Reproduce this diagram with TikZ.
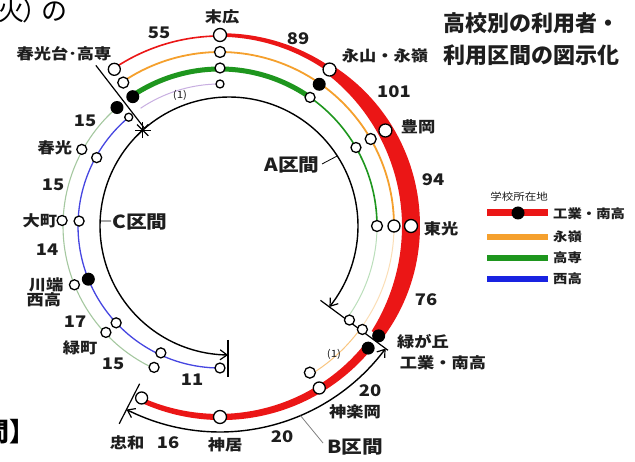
\documentclass[tikz,border=0pt]{standalone}
\usepackage{fontspec}
\newfontfamily\jp[FakeStretch=1.15]{Noto Sans CJK JP}
\newfontfamily\jpn{Noto Sans CJK JP}
\usetikzlibrary{arrows.meta}
\definecolor{rd}{RGB}{235,22,22}
\definecolor{og}{RGB}{245,160,45}
\definecolor{gr}{RGB}{30,150,30}
\definecolor{bl}{RGB}{25,35,225}
\definecolor{bll}{RGB}{70,70,225}
\definecolor{lgr}{RGB}{165,200,160}
\definecolor{fb}{RGB}{200,175,225}
\definecolor{tx}{RGB}{30,30,30}
\newcommand\myarc[3]{plot[domain=#2:#3,samples=70] (\x:#1)}
\begin{document}
\begin{tikzpicture}[x=1pt,y=-1pt,
  declare function={
    wa(\q)=ifthenelse(\q<-55, 3.5+2*(\q+90)/35, ifthenelse(\q<0, 18-8*((\q+5)/50)*((\q+5)/50), 18-5*(\q/35)*(\q/35)));
    wb(\q)=8.5-3.5*(\q-39.5)/75;
  },
  st/.style={font=\jp\bfseries\fontsize{15}{15}\selectfont, inner sep=0pt, text=tx},
  num/.style={font=\jp\bfseries\fontsize{16}{16}\selectfont, inner sep=0pt, text=tx},
  sec/.style={font=\jp\bfseries\fontsize{18}{18}\selectfont, inner sep=0pt, text=tx},
  smalltxt/.style={font=\jp\fontsize{10}{10}\selectfont, inner sep=0pt, text=tx},
  lg/.style={font=\jp\bfseries\fontsize{12.5}{13}\selectfont, inner sep=0pt, anchor=west, text=tx},
  stn/.style={circle, draw=black, fill=white, line width=1.3pt, inner sep=0pt, minimum size=#1},
  bdot/.style={circle, fill=black, inner sep=0pt, minimum size=#1},
  secarc/.style={line width=1.4pt, black},
  sbar/.style={line width=1.2pt, black},
  arr/.style={-{Straight Barb[length=7pt,width=10pt,line width=1.2pt]}},
  arrs/.style={{Straight Barb[length=7pt,width=10pt,line width=1.2pt]}-{Straight Barb[length=7pt,width=10pt,line width=1.2pt]}},
  big/.style={font=\jpn\fontsize{26}{26}\selectfont, inner sep=0pt},
]
\fill[white] (0,0) rectangle (635,462);
\useasboundingbox (0,0) rectangle (635,462);

% ---------- coloured lines ----------
\begin{scope}[shift={(220,226)}]
  \draw[og!35, line width=1pt] \myarc{174}{0}{36};
  \draw[gr!30, line width=1pt] \myarc{157}{0}{36};
  \draw[og!60, line width=1pt] \myarc{174}{36}{58.5};
  \draw[fb, line width=1pt] \myarc{142}{-124}{-90};
  \draw[rd, line width=1.6pt] \myarc{190}{-124}{-90};
  \draw[og, line width=1.8pt] \myarc{174}{-124}{0};
  \draw[gr, line width=5pt] \myarc{157}{-124}{-55};
  \draw[gr, line width=1.6pt] \myarc{157}{-55}{0};
  \draw[lgr, line width=1.1pt] \myarc{157}{-131}{-245};
  \draw[bll, line width=1.3pt] \myarc{142}{-130}{-270};
  \fill[rd] plot[domain=-90:34.7,samples=125] (\x:{191+wa(\x)/2})
        -- plot[domain=34.7:-90,samples=125] (\x:{191-wa(\x)/2}) -- cycle;
  \fill[rd] plot[domain=39.5:114.5,samples=80] (\x:{191+wb(\x)/2})
        -- plot[domain=114.5:39.5,samples=80] (\x:{191-wb(\x)/2}) -- cycle;
  % B section
  \draw[secarc, arrs] \myarc{206}{117}{36.5};
  \coordinate (btk) at (67:206);
  % bars
  \draw[sbar] (-127.7:123) -- (-127.7:203);
  \draw[sbar] (36.5:125) -- (36.5:209);
  \draw[sbar] (117:177) -- (117:222);
\end{scope}

% ---------- A and C sections ----------
\begin{scope}[shift={(229,226)}]
  \draw[secarc, arr] \myarc{129}{-132}{38.9};
  \draw[secarc, arr] \myarc{129}{228}{90.4};
  \coordinate (ast) at (-132:129);
  \coordinate (atk) at (-32.9:129);
  \coordinate (ctk) at (182.2:129);
\end{scope}
\draw[sbar] (228,340) -- (228,377);
\foreach \ang in {0,45,90,135} \draw[line width=1.2pt] (ast) ++(\ang:8) -- ++(180+\ang:16);
\draw[line width=0.8pt] (atk) -- (322,164);
\draw[line width=0.8pt] (ctk) -- (111,221);
\draw[gray, line width=0.8pt] (btk) -- (323,443);

% ---------- stations ----------
\begin{scope}[shift={(220,226)}]
  \foreach \a/\r/\s [count=\i] in {-90/191/13, -90/174/11, -90/158/10, -90/142/8,
      -55/191/13, -55/157/10, -30/191/13, -30/174/11, -30/157/10,
      0/191/13, 0/174/12, 0/157/11, -124/189/12, -124/173/11, -130/142/8,
      -151/158/10, -151/141/10, -178/158/10, -178/141/10, 158/157/10,
      137/156/10, 137/142/10, 115/156/10, 115/140/10, 90/142/10,
      36/160/10, 36/176/10, 58.5/172/11, 58.5/190/12, 90/191/13, 114.5/189/12}
    \node[stn=\s pt] (s\i) at (\a:\r) {};
  \foreach \a/\r [count=\i] in {-55/173, -124/156, -131/157, 158/142, 34.7/193, 39.5/192}
    \node[bdot=13pt] (d\i) at (\a:\r) {};
\end{scope}

% ---------- labels ----------
\node[st] (l1) at (222,17) {末広};
\node[num] (n1) at (159,33) {55};
\node[num] (n2) at (298,39) {89};
\node[st] (l2) at (64,54) {春光台･高専};
\node[st] (l3) at (385,56) {永山・永嶺};
\node[num] (n3) at (394,92) {101};
\node[st] (l4) at (418,127) {豊岡};
\node[num] (n4) at (433,180) {94};
\node[st] (l5) at (441,229) {東光};
\node[num] (n5) at (426,300) {76};
\node[st] (l6) at (423,342) {緑が丘};
\node[st] (l7) at (443,363) {工業・南高};
\node[smalltxt] (p1) at (334,354) {(1)};
\node[smalltxt] (p2) at (180,95) {(1)};
\node[num] (n6) at (370,391) {20};
\node[st] (l8) at (355,412) {神楽岡};
\node[sec] (bsec) at (355,447) {B区間};
\node[num] (n7) at (282,437) {20};
\node[st] (l9) at (225,445) {神居};
\node[num] (n8) at (168,443) {16};
\node[st] (l10) at (127,443) {忠和};
\node[num] (n9) at (192,380) {11};
\node[num] (n10) at (113,364) {15};
\node[st] (l11) at (80,348) {緑町};
\node[num] (n11) at (75,322) {17};
\node[st] (l12) at (44,300) {西高};
\node[st] (l13) at (46,285) {川端};
\node[num] (n12) at (47,250) {14};
\node[st] (l14) at (40,221) {大町};
\node[num] (n13) at (53,185) {15};
\node[st] (l15) at (55,148) {春光};
\node[num] (n14) at (85,121) {15};
\node[sec] (asec) at (292,165) {A区間};
\node[sec, anchor=west] (csec) at (112,222) {C区間};

% ---------- title & cut-off texts ----------
\node[font=\jpn\bfseries\fontsize{22}{22}\selectfont, anchor=west, inner sep=0pt, text=tx] (t1) at (443,23) {高校別の利用者・};
\node[font=\jpn\bfseries\fontsize{22}{22}\selectfont, anchor=west, inner sep=0pt, text=tx] (t2) at (443,55) {利用区間の図示化};
\node[big, anchor=east] (c1a) at (25,11) {（火};
\node[big, anchor=west] (c1b) at (22,11) {）};
\node[big] (c1c) at (54,12) {の};
\node[big, font=\jpn\bfseries\fontsize{26}{26}\selectfont, anchor=east] (c2) at (36,432) {区間】};

% ---------- legend ----------
\node[font=\jp\fontsize{10}{10}\selectfont, inner sep=0pt, text=tx] (lgt) at (519,197) {学校所在地};
\draw[rd, line width=7pt] (487,213) -- (548,213);
\node[bdot=13pt] (lgd) at (518,213) {};
\node[lg] (lg1) at (553,214) {工業・南高};
\draw[og, line width=6.5pt] (487,237) -- (548,237);
\node[lg] (lg2) at (553,237) {永嶺};
\draw[gr, line width=6.5pt] (487,258) -- (548,258);
\node[lg] (lg3) at (553,258) {高専};
\draw[bl, line width=6.5pt] (487,279) -- (548,279);
\node[lg] (lg4) at (553,279) {西高};
\end{tikzpicture}
\end{document}
